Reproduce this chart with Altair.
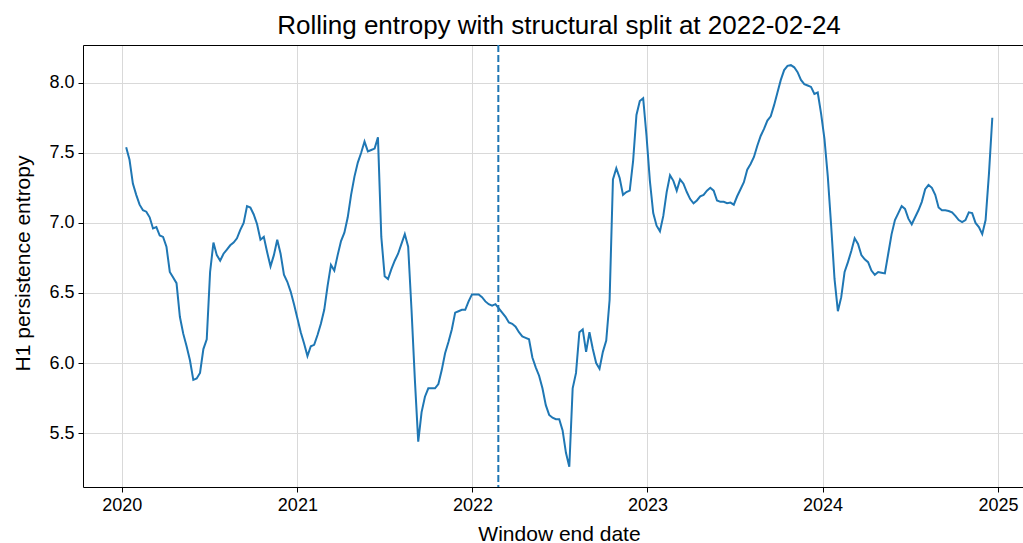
import altair as alt
import pandas as pd

# Weekly window end dates (Fridays) starting here
START_DATE = "2020-01-10"

# H1 persistence entropy, one value per weekly window
entropy = [
    7.54, 7.45, 7.28, 7.20, 7.13, 7.09, 7.08, 7.04, 6.96, 6.97,
    6.91, 6.90, 6.83, 6.65, 6.61, 6.57, 6.33, 6.21, 6.12, 6.02,
    5.88, 5.89, 5.93, 6.10, 6.17, 6.65, 6.86, 6.77, 6.73, 6.78,
    6.81, 6.84, 6.86, 6.89, 6.95, 7.00, 7.12, 7.11, 7.06, 6.99,
    6.88, 6.90, 6.79, 6.69, 6.77, 6.88, 6.78, 6.63, 6.58, 6.51,
    6.42, 6.32, 6.22, 6.14, 6.05, 6.12, 6.13, 6.20, 6.28, 6.38,
    6.55, 6.70, 6.66, 6.77, 6.87, 6.93, 7.04, 7.20, 7.33, 7.43,
    7.50, 7.58, 7.51, 7.52, 7.53, 7.61, 6.90, 6.62, 6.60, 6.67,
    6.73, 6.78, 6.85, 6.92, 6.83, 6.38, 5.88, 5.44, 5.65, 5.76,
    5.82, 5.82, 5.82, 5.85, 5.95, 6.07, 6.15, 6.24, 6.36, 6.37,
    6.38, 6.38, 6.44, 6.49, 6.49, 6.49, 6.47, 6.44, 6.42, 6.41,
    6.42, 6.39, 6.36, 6.33, 6.29, 6.28, 6.26, 6.22, 6.19, 6.18,
    6.17, 6.04, 5.97, 5.91, 5.82, 5.70, 5.63, 5.61, 5.60, 5.60,
    5.52, 5.36, 5.26, 5.82, 5.93, 6.22, 6.24, 6.08, 6.22, 6.10,
    6.00, 5.96, 6.08, 6.16, 6.45, 7.31, 7.39, 7.32, 7.20, 7.22,
    7.23, 7.44, 7.77, 7.87, 7.89, 7.62, 7.30, 7.07, 6.98, 6.94,
    7.05, 7.22, 7.34, 7.30, 7.23, 7.31, 7.28, 7.22, 7.17, 7.14,
    7.16, 7.19, 7.20, 7.23, 7.25, 7.23, 7.16, 7.15, 7.15, 7.14,
    7.145, 7.13, 7.19, 7.24, 7.29, 7.38, 7.42, 7.47, 7.55, 7.62,
    7.67, 7.73, 7.76, 7.84, 7.93, 8.02, 8.09, 8.12, 8.125, 8.11,
    8.075, 8.02, 7.99, 7.98, 7.97, 7.92, 7.93, 7.78, 7.60, 7.33,
    6.98, 6.60, 6.37, 6.47, 6.65, 6.72, 6.80, 6.89, 6.85, 6.77,
    6.74, 6.72, 6.66, 6.63, 6.65, 6.645, 6.64, 6.78, 6.92, 7.02,
    7.07, 7.12, 7.10, 7.03, 6.99, 7.04, 7.09, 7.15, 7.24, 7.27,
    7.25, 7.20, 7.11, 7.09, 7.09, 7.085, 7.075, 7.05, 7.02, 7.005,
    7.02, 7.075, 7.07, 7.00, 6.97, 6.92, 7.02, 7.35, 7.75,
]

SPLIT_DATE = "2022-02-24"
TITLE = f"Rolling entropy with structural split at {SPLIT_DATE}"
year_ticks = [2020, 2021, 2022, 2023, 2024, 2025]
entropy_ticks = [5.5, 6.0, 6.5, 7.0, 7.5, 8.0]

BLUE = "#1f77b4"
FONT = "Liberation Sans"

dates = pd.date_range(START_DATE, periods=len(entropy), freq="7D")
series = pd.DataFrame({"date": dates, "entropy": entropy})
split = pd.DataFrame({"date": [pd.Timestamp(SPLIT_DATE)]})

x_scale = alt.Scale(
    domain=[alt.DateTime(year=2019, month=10, date=12),
            alt.DateTime(year=2025, month=2, date=22)]
)
y_scale = alt.Scale(domain=[5.116, 8.269], nice=False, zero=False)

line = alt.Chart(series).mark_line(color=BLUE, strokeWidth=2).encode(
    x=alt.X(
        "date:T",
        scale=x_scale,
        axis=alt.Axis(
            values=[alt.DateTime(year=y, month=1, date=1) for y in year_ticks],
            format="%Y",
            title="Window end date",
            titleX=476,
            titleY=53,
            titleAnchor="start",
            titleAlign="center",
            titleBaseline="alphabetic",
        ),
    ),
    y=alt.Y(
        "entropy:Q",
        scale=y_scale,
        axis=alt.Axis(
            values=entropy_ticks,
            format=".1f",
            title="H1 persistence entropy",
            titleX=-54,
            titleY=218,
            titleAngle=270,
            titleAlign="center",
            titleBaseline="alphabetic",
        ),
    ),
)

# vertical marker at the split date; its axis draws the top frame line
split_rule = alt.Chart(split).mark_rule(
    color=BLUE, strokeWidth=2, strokeDash=[7, 3]
).encode(
    x=alt.X(
        "date:T",
        scale=x_scale,
        axis=alt.Axis(orient="top", labels=False, ticks=False, grid=False,
                      title=None, domainColor="black", domainWidth=1),
    )
)

chart = (
    alt.layer(line, split_rule)
    .resolve_axis(x="independent")
    .properties(
        width=940,
        height=442,
        padding={"left": 83, "top": 45, "right": 0, "bottom": 56},
        autosize=alt.AutoSizeParams(type="none"),
        background="white",
        title=alt.TitleParams(
            TITLE, font=FONT, fontSize=26, fontWeight="normal",
            color="black", anchor="middle", dx=6, offset=5,
        ),
    )
    .configure_view(stroke=None)
    .configure_axis(
        domainColor="black",
        domainWidth=1,
        tickColor="black",
        tickSize=5,
        tickWidth=1,
        gridColor="#d9d9d9",
        gridWidth=1,
        labelFont=FONT,
        labelFontSize=18,
        labelColor="black",
        titleFont=FONT,
        titleFontSize=21,
        titleFontWeight="normal",
        titleColor="black",
        labelPadding=4,
    )
)

chart.save("out.html", embed_options={"renderer": "svg", "actions": False})
